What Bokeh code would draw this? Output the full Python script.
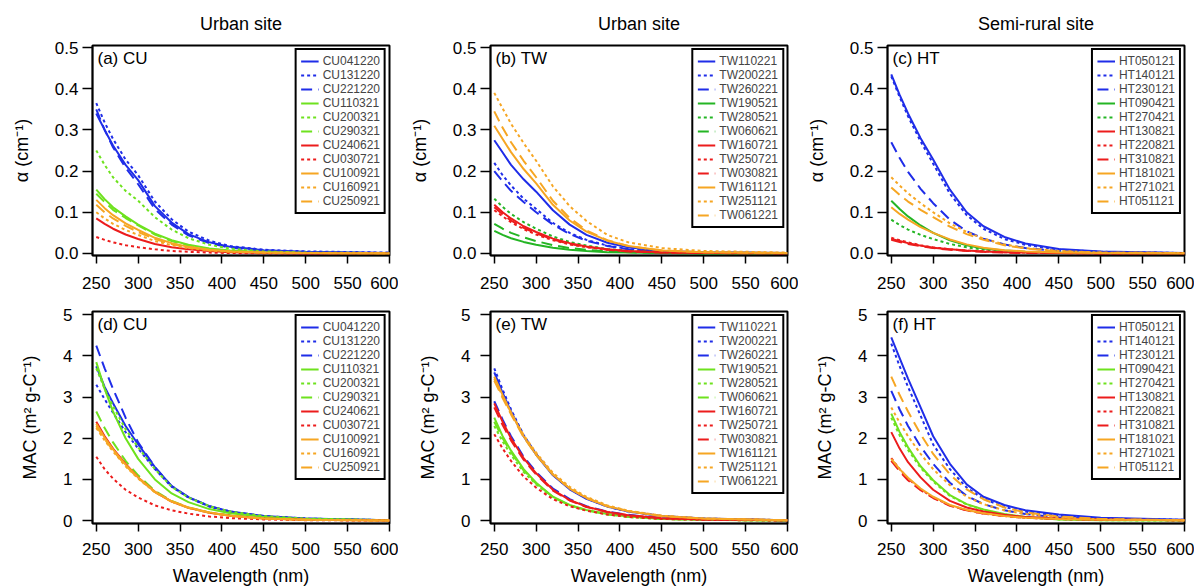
from bokeh.plotting import figure
from bokeh.layouts import column, row
from bokeh.models import Range1d, Legend, LegendItem, Label, FixedTicker
from bokeh.embed import file_html
from bokeh.resources import INLINE

# ---------------- data ----------------
wavelength = [250, 260, 270, 285, 300, 320, 340, 360, 385, 410, 450, 500, 600]

cu_names = ["CU041220", "CU131220", "CU221220", "CU110321", "CU200321", "CU290321",
            "CU240621", "CU030721", "CU100921", "CU160921", "CU250921"]
tw_names = ["TW110221", "TW200221", "TW260221", "TW190521", "TW280521", "TW060621",
            "TW160721", "TW250721", "TW030821", "TW161121", "TW251121", "TW061221"]
ht_names = ["HT050121", "HT140121", "HT230121", "HT090421", "HT270421",
            "HT130821", "HT220821", "HT310821", "HT181021", "HT271021", "HT051121"]

cu_alpha = [
    [0.340, 0.300, 0.262, 0.215, 0.178, 0.115, 0.075, 0.047, 0.027, 0.016, 0.008, 0.004, 0.001],
    [0.365, 0.318, 0.278, 0.228, 0.190, 0.126, 0.083, 0.053, 0.031, 0.018, 0.009, 0.005, 0.002],
    [0.350, 0.300, 0.258, 0.208, 0.168, 0.108, 0.070, 0.044, 0.025, 0.014, 0.007, 0.003, 0.001],
    [0.155, 0.132, 0.112, 0.090, 0.070, 0.048, 0.032, 0.021, 0.012, 0.007, 0.003, 0.001, 0.000],
    [0.250, 0.215, 0.185, 0.152, 0.128, 0.088, 0.058, 0.037, 0.021, 0.012, 0.005, 0.002, 0.001],
    [0.145, 0.125, 0.106, 0.086, 0.068, 0.046, 0.030, 0.019, 0.011, 0.006, 0.003, 0.001, 0.000],
    [0.085, 0.072, 0.060, 0.046, 0.035, 0.023, 0.015, 0.010, 0.006, 0.003, 0.001, 0.000, 0.000],
    [0.040, 0.033, 0.027, 0.020, 0.015, 0.010, 0.006, 0.004, 0.002, 0.001, 0.000, 0.000, 0.000],
    [0.130, 0.110, 0.093, 0.073, 0.057, 0.038, 0.025, 0.016, 0.009, 0.005, 0.002, 0.001, 0.000],
    [0.100, 0.085, 0.072, 0.057, 0.045, 0.030, 0.020, 0.013, 0.007, 0.004, 0.002, 0.001, 0.000],
    [0.118, 0.100, 0.085, 0.067, 0.052, 0.035, 0.023, 0.015, 0.008, 0.005, 0.002, 0.001, 0.000],
]
tw_alpha = [
    [0.275, 0.245, 0.215, 0.180, 0.150, 0.105, 0.070, 0.045, 0.026, 0.015, 0.006, 0.003, 0.001],
    [0.220, 0.190, 0.165, 0.133, 0.108, 0.074, 0.050, 0.033, 0.019, 0.011, 0.005, 0.002, 0.001],
    [0.200, 0.175, 0.152, 0.125, 0.100, 0.070, 0.047, 0.031, 0.018, 0.010, 0.004, 0.002, 0.001],
    [0.055, 0.045, 0.037, 0.028, 0.021, 0.014, 0.009, 0.006, 0.003, 0.002, 0.001, 0.000, 0.000],
    [0.133, 0.113, 0.096, 0.076, 0.060, 0.041, 0.028, 0.019, 0.011, 0.006, 0.003, 0.001, 0.000],
    [0.072, 0.060, 0.050, 0.039, 0.030, 0.020, 0.013, 0.009, 0.005, 0.003, 0.001, 0.000, 0.000],
    [0.118, 0.100, 0.085, 0.066, 0.052, 0.036, 0.025, 0.017, 0.010, 0.006, 0.003, 0.001, 0.000],
    [0.105, 0.090, 0.076, 0.059, 0.046, 0.032, 0.022, 0.015, 0.009, 0.005, 0.002, 0.001, 0.000],
    [0.112, 0.095, 0.080, 0.062, 0.049, 0.034, 0.023, 0.016, 0.009, 0.005, 0.002, 0.001, 0.000],
    [0.310, 0.278, 0.246, 0.205, 0.170, 0.118, 0.080, 0.053, 0.031, 0.018, 0.007, 0.003, 0.001],
    [0.390, 0.352, 0.315, 0.268, 0.225, 0.163, 0.115, 0.079, 0.045, 0.027, 0.013, 0.006, 0.002],
    [0.345, 0.305, 0.270, 0.225, 0.185, 0.128, 0.086, 0.056, 0.032, 0.018, 0.007, 0.003, 0.001],
]
ht_alpha = [
    [0.435, 0.385, 0.340, 0.280, 0.228, 0.155, 0.100, 0.066, 0.040, 0.024, 0.011, 0.005, 0.001],
    [0.430, 0.380, 0.333, 0.272, 0.218, 0.145, 0.093, 0.060, 0.035, 0.021, 0.009, 0.004, 0.001],
    [0.270, 0.232, 0.198, 0.157, 0.122, 0.082, 0.054, 0.036, 0.022, 0.013, 0.006, 0.002, 0.001],
    [0.128, 0.108, 0.090, 0.068, 0.050, 0.032, 0.020, 0.012, 0.007, 0.004, 0.002, 0.001, 0.000],
    [0.082, 0.069, 0.058, 0.045, 0.035, 0.023, 0.015, 0.009, 0.005, 0.003, 0.001, 0.000, 0.000],
    [0.035, 0.030, 0.025, 0.019, 0.014, 0.010, 0.007, 0.005, 0.003, 0.002, 0.001, 0.000, 0.000],
    [0.038, 0.032, 0.027, 0.020, 0.015, 0.010, 0.007, 0.005, 0.003, 0.002, 0.001, 0.000, 0.000],
    [0.033, 0.028, 0.023, 0.018, 0.013, 0.009, 0.006, 0.004, 0.002, 0.001, 0.001, 0.000, 0.000],
    [0.112, 0.096, 0.082, 0.064, 0.050, 0.034, 0.022, 0.014, 0.008, 0.005, 0.002, 0.001, 0.000],
    [0.185, 0.165, 0.146, 0.122, 0.100, 0.073, 0.052, 0.036, 0.022, 0.013, 0.006, 0.002, 0.001],
    [0.160, 0.142, 0.126, 0.106, 0.088, 0.065, 0.047, 0.033, 0.020, 0.012, 0.005, 0.002, 0.001],
]

cu_mac = [
    [3.75, 3.25, 2.85, 2.30, 1.85, 1.30, 0.84, 0.57, 0.35, 0.22, 0.11, 0.05, 0.01],
    [3.30, 2.95, 2.62, 2.15, 1.75, 1.25, 0.82, 0.56, 0.34, 0.21, 0.10, 0.05, 0.01],
    [4.25, 3.70, 3.20, 2.50, 1.90, 1.30, 0.84, 0.57, 0.35, 0.22, 0.11, 0.05, 0.01],
    [3.85, 3.20, 2.65, 2.00, 1.50, 1.00, 0.66, 0.45, 0.28, 0.18, 0.09, 0.04, 0.01],
    [3.70, 3.20, 2.78, 2.22, 1.78, 1.25, 0.82, 0.56, 0.35, 0.22, 0.11, 0.05, 0.01],
    [2.65, 2.25, 1.90, 1.45, 1.10, 0.72, 0.48, 0.32, 0.20, 0.13, 0.06, 0.03, 0.01],
    [2.40, 2.05, 1.75, 1.38, 1.05, 0.70, 0.46, 0.31, 0.19, 0.12, 0.05, 0.02, 0.00],
    [1.55, 1.25, 1.02, 0.75, 0.56, 0.37, 0.25, 0.17, 0.10, 0.06, 0.03, 0.01, 0.00],
    [2.35, 2.02, 1.73, 1.36, 1.05, 0.70, 0.47, 0.32, 0.20, 0.12, 0.05, 0.02, 0.00],
    [2.25, 1.95, 1.68, 1.32, 1.02, 0.69, 0.46, 0.31, 0.19, 0.12, 0.05, 0.02, 0.00],
    [2.30, 1.98, 1.70, 1.34, 1.03, 0.69, 0.46, 0.31, 0.19, 0.12, 0.05, 0.02, 0.00],
]
tw_mac = [
    [3.60, 3.10, 2.65, 2.05, 1.60, 1.10, 0.76, 0.53, 0.34, 0.22, 0.11, 0.05, 0.01],
    [3.70, 3.18, 2.70, 2.08, 1.62, 1.12, 0.77, 0.54, 0.34, 0.22, 0.11, 0.05, 0.01],
    [2.90, 2.45, 2.05, 1.55, 1.18, 0.78, 0.52, 0.35, 0.22, 0.14, 0.06, 0.03, 0.01],
    [2.50, 2.05, 1.70, 1.25, 0.92, 0.58, 0.38, 0.26, 0.16, 0.10, 0.04, 0.02, 0.00],
    [2.30, 1.92, 1.60, 1.18, 0.88, 0.56, 0.37, 0.25, 0.15, 0.09, 0.04, 0.02, 0.00],
    [2.40, 2.00, 1.66, 1.22, 0.90, 0.57, 0.37, 0.25, 0.15, 0.09, 0.04, 0.02, 0.00],
    [2.85, 2.40, 2.00, 1.52, 1.15, 0.75, 0.50, 0.34, 0.21, 0.13, 0.06, 0.03, 0.01],
    [2.10, 1.75, 1.45, 1.07, 0.80, 0.52, 0.35, 0.24, 0.15, 0.09, 0.04, 0.02, 0.00],
    [2.75, 2.32, 1.95, 1.48, 1.12, 0.73, 0.49, 0.33, 0.21, 0.13, 0.06, 0.03, 0.01],
    [3.50, 3.05, 2.62, 2.05, 1.60, 1.12, 0.78, 0.55, 0.35, 0.23, 0.11, 0.05, 0.01],
    [3.45, 3.02, 2.62, 2.08, 1.65, 1.16, 0.82, 0.58, 0.37, 0.24, 0.12, 0.05, 0.01],
    [3.40, 2.98, 2.58, 2.03, 1.60, 1.12, 0.78, 0.55, 0.35, 0.23, 0.11, 0.05, 0.01],
]
ht_mac = [
    [4.45, 3.95, 3.45, 2.75, 2.05, 1.38, 0.88, 0.58, 0.38, 0.25, 0.15, 0.07, 0.02],
    [4.30, 3.75, 3.25, 2.55, 1.85, 1.25, 0.80, 0.53, 0.33, 0.22, 0.12, 0.05, 0.02],
    [3.15, 2.70, 2.30, 1.80, 1.38, 0.92, 0.60, 0.40, 0.25, 0.16, 0.08, 0.04, 0.01],
    [2.60, 2.15, 1.78, 1.32, 0.98, 0.62, 0.40, 0.27, 0.16, 0.09, 0.03, 0.01, 0.00],
    [2.50, 2.07, 1.72, 1.28, 0.95, 0.60, 0.39, 0.26, 0.15, 0.08, 0.03, 0.01, 0.00],
    [2.15, 1.75, 1.42, 1.05, 0.75, 0.48, 0.32, 0.22, 0.14, 0.09, 0.05, 0.03, 0.01],
    [1.52, 1.25, 1.02, 0.76, 0.56, 0.37, 0.25, 0.17, 0.11, 0.07, 0.04, 0.02, 0.01],
    [1.45, 1.20, 0.98, 0.74, 0.55, 0.36, 0.25, 0.17, 0.11, 0.07, 0.04, 0.02, 0.01],
    [1.50, 1.25, 1.04, 0.78, 0.58, 0.38, 0.26, 0.18, 0.11, 0.07, 0.04, 0.02, 0.01],
    [2.75, 2.38, 2.05, 1.62, 1.25, 0.86, 0.58, 0.40, 0.25, 0.16, 0.08, 0.03, 0.01],
    [3.50, 3.05, 2.65, 2.10, 1.62, 1.12, 0.76, 0.52, 0.32, 0.20, 0.10, 0.04, 0.01],
]

x_ticks = [250, 300, 350, 400, 450, 500, 550, 600]
alpha_ticks = [0.0, 0.1, 0.2, 0.3, 0.4, 0.5]
mac_ticks = [0, 1, 2, 3, 4, 5]

# ---------------- styles ----------------
BLUE = "#1f2de8"
LIME = "#6ee21e"
GREEN = "#24b524"
RED = "#ec1c1c"
ORANGE = "#f6a623"
SOLID, DOT, DASH = "solid", "3 3", "11 6"

cu_style = [(BLUE, SOLID), (BLUE, DOT), (BLUE, DASH), (None, SOLID), (None, DOT), (None, DASH),
            (RED, SOLID), (RED, DOT), (ORANGE, SOLID), (ORANGE, DOT), (ORANGE, DASH)]
tw_style = [(BLUE, SOLID), (BLUE, DOT), (BLUE, DASH), (None, SOLID), (None, DOT), (None, DASH),
            (RED, SOLID), (RED, DOT), (RED, DASH), (ORANGE, SOLID), (ORANGE, DOT), (ORANGE, DASH)]
ht_style = [(BLUE, SOLID), (BLUE, DOT), (BLUE, DASH), (None, SOLID), (None, DOT),
            (RED, SOLID), (RED, DOT), (RED, DASH), (ORANGE, SOLID), (ORANGE, DOT), (ORANGE, DASH)]

FONT = "Liberation Sans"
FW, FH1, FH2 = 297, 210, 212


def make_panel(names, values, styles, green, tag, ylabel, yr, yticks, fmt_ticks,
               title, top_row, left_border, right_border, line_h, item_h):
    fh = FH1 if top_row else FH2
    p = figure(frame_width=FW, frame_height=fh, output_backend="svg",
               toolbar_location=None, x_range=Range1d(245.5, 600),
               y_range=Range1d(*yr),
               min_border_left=left_border, min_border_right=right_border,
               min_border_top=43 if top_row else 14,
               min_border_bottom=42 if top_row else 62)
    p.background_fill_color = "white"
    p.border_fill_color = "white"
    p.grid.visible = False
    p.outline_line_color = "black"
    p.outline_line_width = 2
    p.outline_line_alpha = 1

    items = []
    for name, vals, (col, dash) in zip(names, values, styles):
        c = green if col is None else col
        r = p.line(wavelength, vals, line_color=c, line_width=2, line_dash=dash)
        items.append(LegendItem(label=name, renderers=[r]))

    for ax in (p.xaxis[0], p.yaxis[0]):
        ax.axis_line_color = "black"
        ax.axis_line_width = 1.5
        ax.major_tick_line_color = "black"
        ax.major_tick_line_width = 1.5
        ax.major_tick_in = 0
        ax.minor_tick_line_color = None
        ax.major_label_text_font = FONT
        ax.major_label_text_font_size = "17px"
        ax.major_label_text_color = "black"
        ax.axis_label_text_font = FONT
        ax.axis_label_text_font_size = "18px"
        ax.axis_label_text_font_style = "normal"
        ax.axis_label_text_color = "black"

    p.xaxis.ticker = FixedTicker(ticks=x_ticks)
    p.xaxis.major_tick_out = 8
    p.xaxis.major_label_standoff = 13 if top_row else 11
    p.yaxis.ticker = FixedTicker(ticks=yticks)
    p.yaxis.major_label_overrides = {t: fmt_ticks(t) for t in yticks}
    p.yaxis.major_tick_out = 10
    p.yaxis.major_label_standoff = 4 if top_row else 10
    p.yaxis.axis_label = ylabel
    p.yaxis.axis_label_standoff = 20
    if not top_row:
        p.xaxis.axis_label = "Wavelength (nm)"
        p.xaxis.axis_label_standoff = 8

    if title:
        p.title.text = title
        p.title.align = "center"
        p.title.text_font = FONT
        p.title.text_font_size = "18px"
        p.title.text_font_style = "normal"
        p.title.text_color = "black"
        p.title.standoff = 23

    p.add_layout(Label(x=5, y=fh - 3, x_units="screen", y_units="screen", text=tag,
                       text_baseline="top", text_font=FONT, text_font_size="17px",
                       text_color="black"))

    leg = Legend(items=items, location="top_right")
    leg.margin = 3
    leg.padding = 4
    leg.spacing = 0
    leg.label_height = item_h
    leg.glyph_height = item_h
    leg.glyph_width = 18
    leg.label_standoff = 4
    leg.label_text_font = FONT
    leg.label_text_font_size = "12px"
    leg.label_text_line_height = line_h
    leg.border_line_color = "black"
    leg.border_line_width = 2
    leg.border_line_alpha = 1
    leg.background_fill_alpha = 1
    p.add_layout(leg)
    return p


fmt_a = lambda t: f"{t:.1f}"
fmt_m = lambda t: f"{int(t)}"
ylab_a = "\u03b1 (cm\u207b\u00b9)"
ylab_m = "MAC (m\u00b2 g-C\u207b\u00b9)"
yr_a = (-0.005, 0.505)
yr_m = (-0.07, 5.08)

pa = make_panel(cu_names, cu_alpha, cu_style, LIME, "(a) CU", ylab_a, yr_a, alpha_ticks, fmt_a, "Urban site", True, 92, 9, 0.85, 10)
pb = make_panel(tw_names, tw_alpha, tw_style, GREEN, "(b) TW", ylab_a, yr_a, alpha_ticks, fmt_a, "Urban site", True, 92, 11, 0.74, 10)
pc = make_panel(ht_names, ht_alpha, ht_style, GREEN, "(c) HT", ylab_a, yr_a, alpha_ticks, fmt_a, "Semi-rural site", True, 89, 10, 0.85, 10)
pd = make_panel(cu_names, cu_mac, cu_style, LIME, "(d) CU", ylab_m, yr_m, mac_ticks, fmt_m, None, False, 92, 9, 0.85, 10)
pe = make_panel(tw_names, tw_mac, tw_style, LIME, "(e) TW", ylab_m, yr_m, mac_ticks, fmt_m, None, False, 92, 11, 0.74, 10)
pf = make_panel(ht_names, ht_mac, ht_style, LIME, "(f) HT", ylab_m, yr_m, mac_ticks, fmt_m, None, False, 89, 10, 0.85, 10)

layout = column(row(pa, pb, pc), row(pd, pe, pf))
open("out.html", "w").write(file_html(layout, INLINE))
